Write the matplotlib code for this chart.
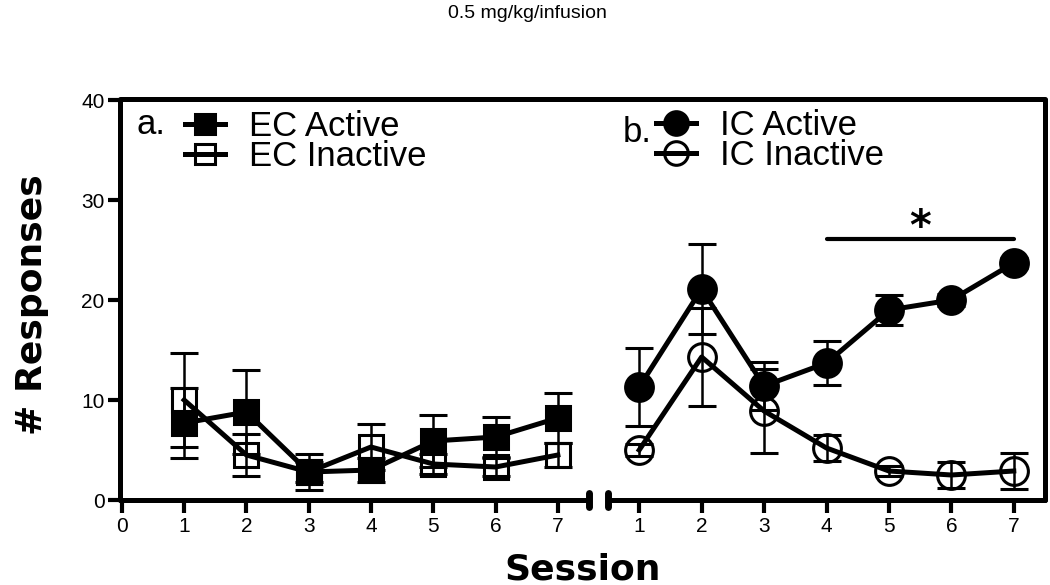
import numpy as np
import matplotlib
matplotlib.use("Agg")
import matplotlib.pyplot as plt
from matplotlib.lines import Line2D

# values (mean +/- error per session)
sessions = [1, 2, 3, 4, 5, 6, 7]

ec_active = [7.7, 8.8, 2.8, 3.0, 5.9, 6.3, 8.2]
ec_active_err = [3.5, 4.2, 1.0, 1.2, 2.6, 2.0, 2.5]
ec_inactive = [10.0, 4.5, 2.8, 5.3, 3.6, 3.3, 4.5]
ec_inactive_err = [4.7, 2.1, 1.8, 2.3, 1.0, 0.9, 1.2]

ic_active = [11.3, 21.1, 11.4, 13.7, 19.0, 20.0, 23.7]
ic_active_err = [3.9, 4.5, 2.4, 2.2, 1.5, 0.6, 0.5]
ic_inactive = [5.0, 14.3, 8.9, 5.2, 2.9, 2.5, 2.9]
ic_inactive_err = [0.6, 4.9, 4.2, 1.3, 0.5, 1.3, 1.8]

sig_span = [4, 7]
sig_level = 26.1

left_ticks = [0, 1, 2, 3, 4, 5, 6, 7]
right_ticks = [1, 2, 3, 4, 5, 6, 7]
y_ticks = [0, 10, 20, 30, 40]

plt.rcParams['font.family'] = ['Liberation Sans', 'DejaVu Sans']

W, H = 1050, 585
fig = plt.figure(figsize=(W / 100, H / 100), dpi=100)
ax1 = fig.add_axes([120 / W, 1 - 500 / H, 469 / W, 400 / H])
ax2 = fig.add_axes([608 / W, 1 - 500 / H, 437 / W, 400 / H])

SPINE = 3.6
LINE = 3.6
ELW = 1.8
CAP = 10


def series(ax, x, y, err, marker, filled, ms):
    ax.errorbar(x, y, yerr=err, fmt='-', color='black', lw=LINE,
                marker=marker, ms=ms, mfc='black' if filled else 'none',
                mec='black', mew=2.2, elinewidth=ELW, capsize=CAP,
                capthick=ELW, clip_on=False, zorder=3 if filled else 2)


def key(marker, filled, ms):
    return Line2D([], [], color='black', lw=LINE, marker=marker, ms=ms,
                  mfc='black' if filled else 'none', mec='black', mew=2.2)


series(ax1, sessions, ec_inactive, ec_inactive_err, 's', False, 17)
series(ax1, sessions, ec_active, ec_active_err, 's', True, 17)
series(ax2, sessions, ic_inactive, ic_inactive_err, 'o', False, 20)
series(ax2, sessions, ic_active, ic_active_err, 'o', True, 20)

for ax in (ax1, ax2):
    ax.set_ylim(0, 40)
    ax.spines['top'].set_visible(False)
    for s in ax.spines.values():
        s.set_linewidth(SPINE)
        s.set_capstyle('round')
    ax.tick_params(axis='both', width=3, length=9, labelsize=15, color='black')
    ax.tick_params(axis='x', pad=3)
    ax.tick_params(axis='y', pad=2)
    ax.patch.set_visible(False)

ax1.set_xlim(-0.03, 7.5)
ax1.set_xticks(left_ticks)
ax1.set_yticks(y_ticks)
ax1.spines['right'].set_visible(False)

ax2.set_xlim(0.5, 7.5)
ax2.set_xticks(right_ticks)
ax2.set_yticks([])
ax2.spines['left'].set_visible(False)

# continuous top border and break caps
fig.add_artist(Line2D([120 / W, 1045 / W], [1 - 99 / H, 1 - 99 / H],
                      lw=SPINE, color='black', solid_capstyle='round'))
ax1.plot([1, 1], [-0.018, 0.018], transform=ax1.transAxes, color='black',
         lw=5, solid_capstyle='round', clip_on=False)
ax2.plot([0, 0], [-0.018, 0.018], transform=ax2.transAxes, color='black',
         lw=5, solid_capstyle='round', clip_on=False)

# significance bar
ax2.plot(sig_span, [sig_level, sig_level], color='black', lw=3,
         solid_capstyle='round')
ax2.text(np.mean(sig_span), sig_level + 1.1, '*', ha='center', va='center',
         fontsize=30, fontweight='bold', family='DejaVu Sans')

# legends
leg_kw = dict(frameon=False, fontsize=25, handlelength=1.15, handletextpad=0.7,
              borderpad=0, borderaxespad=0, labelspacing=-0.08)
ax1.legend([key('s', True, 15), key('s', False, 15)], ['EC Active', 'EC Inactive'],
           loc='upper left', bbox_to_anchor=(0.138, 0.975), **leg_kw)
ax2.legend([key('o', True, 17), key('o', False, 17)], ['IC Active', 'IC Inactive'],
           loc='upper left', bbox_to_anchor=(0.11, 0.978), **leg_kw)
ax1.text(0.035, 0.94, 'a.', transform=ax1.transAxes, fontsize=25, va='center')
ax2.text(0.033, 0.918, 'b.', transform=ax2.transAxes, fontsize=25, va='center')

fig.text(527 / W, 1 - 14 / H, '0.5 mg/kg/infusion', ha='center', va='center', fontsize=14)
fig.text(583 / W, 1 - 570 / H, 'Session', ha='center', va='center',
         fontsize=26, fontweight='bold', family='DejaVu Sans')
fig.text(32 / W, 1 - 305 / H, '# Responses', ha='center', va='center', rotation=90,
         fontsize=26, fontweight='bold', family='DejaVu Sans')

fig.savefig('out.png', dpi=100)
